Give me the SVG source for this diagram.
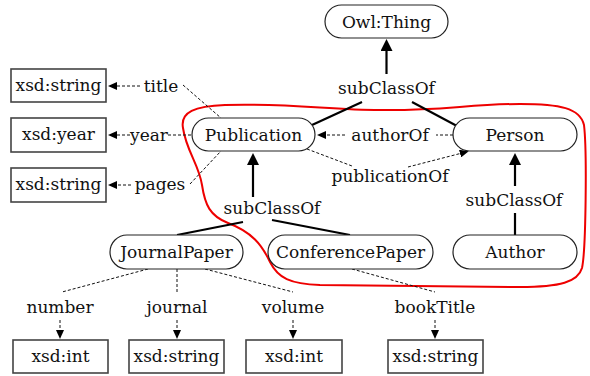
<svg xmlns="http://www.w3.org/2000/svg" width="590" height="376" viewBox="0 0 590 376">
  <style>
    text { font-family: "DejaVu Serif", "Liberation Serif", serif; font-size: 17px; fill: #111; text-anchor: middle; }
    .cls { fill: #fff; stroke: #222; stroke-width: 1.2; }
    .lit { fill: #fff; stroke: #444; stroke-width: 1.6; }
    .sub { stroke: #000; stroke-width: 2.2; fill: none; }
    .prop { stroke: #111; stroke-width: 1; stroke-dasharray: 3 2; fill: none; }
    .hull { fill: none; stroke: #e00; stroke-width: 2; }
  </style>
  <defs>
    <marker id="head" markerUnits="userSpaceOnUse" markerWidth="12" markerHeight="12" viewBox="0 0 12 12" refX="2" refY="6" orient="auto">
      <path d="M0,0 L12,6 L0,12 z" fill="#000"/>
    </marker>
    <marker id="dhead" markerUnits="userSpaceOnUse" markerWidth="9" markerHeight="8" viewBox="0 0 9 8" refX="1" refY="4" orient="auto">
      <path d="M0,0 L9,4 L0,8 z" fill="#000"/>
    </marker>
  </defs>

  <rect width="590" height="376" fill="#fff"/>

  <!-- grouping hull around the core classes -->
  <path class="hull" d="M183,128 C180,112 195,106 225,105 C290,103 330,110 380,110 C440,111 470,104 520,104 C560,104 580,108 584,125 C587,150 586,250 582,268 C578,282 560,287 520,287 L320,285 C290,284 278,278 270,262 C262,245 252,232 228,223 C210,216 205,205 202,185 C199,165 186,150 183,128 Z"/>

  <g id="connectors">
    <!-- subClassOf edges -->
    <line class="sub" x1="386.5" y1="74" x2="386.5" y2="49" marker-end="url(#head)"/>
    <line class="sub" x1="362" y1="102" x2="312" y2="125"/>
    <line class="sub" x1="412" y1="102" x2="457" y2="126"/>
    <line class="sub" x1="253" y1="197" x2="253" y2="163" marker-end="url(#head)"/>
    <line class="sub" x1="243" y1="222" x2="177" y2="235"/>
    <line class="sub" x1="272" y1="220" x2="350" y2="235"/>
    <line class="sub" x1="515" y1="186" x2="515" y2="163" marker-end="url(#head)"/>
    <line class="sub" x1="515" y1="213" x2="515" y2="235"/>

    <!-- Publication datatype properties -->
    <line class="prop" x1="140" y1="86" x2="116" y2="86" marker-end="url(#dhead)"/>
    <line class="prop" x1="183" y1="85" x2="221" y2="118"/>
    <line class="prop" x1="130" y1="135" x2="116" y2="135" marker-end="url(#dhead)"/>
    <line class="prop" x1="168" y1="135" x2="192" y2="135"/>
    <line class="prop" x1="131" y1="185" x2="116" y2="185" marker-end="url(#dhead)"/>
    <line class="prop" x1="190" y1="184" x2="221" y2="151"/>

    <!-- object properties -->
    <line class="prop" x1="453" y1="135" x2="436" y2="135"/>
    <line class="prop" x1="345" y1="135" x2="325" y2="135" marker-end="url(#dhead)"/>
    <line class="prop" x1="307" y1="149" x2="352" y2="166"/>
    <line class="prop" x1="408" y1="167" x2="461" y2="153.3" marker-end="url(#dhead)"/>

    <!-- paper properties -->
    <line class="prop" x1="148" y1="269" x2="62" y2="292"/>
    <line class="prop" x1="177" y1="269" x2="177" y2="292"/>
    <line class="prop" x1="205" y1="269" x2="293" y2="292"/>
    <line class="prop" x1="352" y1="269" x2="435" y2="292"/>
    <line class="prop" x1="60" y1="320" x2="60" y2="331" marker-end="url(#dhead)"/>
    <line class="prop" x1="177" y1="320" x2="177" y2="331" marker-end="url(#dhead)"/>
    <line class="prop" x1="293" y1="320" x2="293" y2="331" marker-end="url(#dhead)"/>
    <line class="prop" x1="435" y1="320" x2="435" y2="331" marker-end="url(#dhead)"/>
  </g>

  <g id="labels">
    <text x="386.5" y="94">subClassOf</text>
    <text x="272" y="214">subClassOf</text>
    <text x="514" y="206">subClassOf</text>
    <text x="161" y="92">title</text>
    <text x="149" y="141">year</text>
    <text x="160" y="190">pages</text>
    <text x="390" y="141">authorOf</text>
    <text x="390" y="182">publicationOf</text>
    <text x="60" y="313">number</text>
    <text x="177" y="313">journal</text>
    <text x="293" y="313">volume</text>
    <text x="435" y="313">bookTitle</text>
  </g>

  <g id="owl-thing">
    <rect class="cls" x="325" y="5" width="123" height="33" rx="16.5"/>
    <text x="386.5" y="28">Owl:Thing</text>
  </g>
  <g id="publication">
    <rect class="cls" x="192" y="118" width="123" height="33" rx="16.5"/>
    <text x="253.5" y="141">Publication</text>
  </g>
  <g id="person">
    <rect class="cls" x="453" y="118" width="124" height="33" rx="16.5"/>
    <text x="515" y="141">Person</text>
  </g>
  <g id="journal-paper">
    <rect class="cls" x="110" y="235" width="133" height="34" rx="17"/>
    <text x="176.5" y="258">JournalPaper</text>
  </g>
  <g id="conference-paper">
    <rect class="cls" x="268" y="235" width="165" height="34" rx="17"/>
    <text x="350.5" y="258">ConferencePaper</text>
  </g>
  <g id="author">
    <rect class="cls" x="453" y="235" width="124" height="34" rx="17"/>
    <text x="515" y="258">Author</text>
  </g>

  <g id="title-range">
    <rect class="lit" x="11" y="69" width="95" height="33"/>
    <text x="58.5" y="91">xsd:string</text>
  </g>
  <g id="year-range">
    <rect class="lit" x="11" y="118" width="95" height="34"/>
    <text x="58.5" y="140">xsd:year</text>
  </g>
  <g id="pages-range">
    <rect class="lit" x="11" y="168" width="95" height="34"/>
    <text x="58.5" y="190">xsd:string</text>
  </g>
  <g id="number-range">
    <rect class="lit" x="13" y="340" width="95" height="33"/>
    <text x="60.5" y="362">xsd:int</text>
  </g>
  <g id="journal-range">
    <rect class="lit" x="129" y="340" width="95" height="33"/>
    <text x="176.5" y="362">xsd:string</text>
  </g>
  <g id="volume-range">
    <rect class="lit" x="246" y="340" width="96" height="33"/>
    <text x="294" y="362">xsd:int</text>
  </g>
  <g id="booktitle-range">
    <rect class="lit" x="388" y="340" width="95" height="33"/>
    <text x="435.5" y="362">xsd:string</text>
  </g>
</svg>
